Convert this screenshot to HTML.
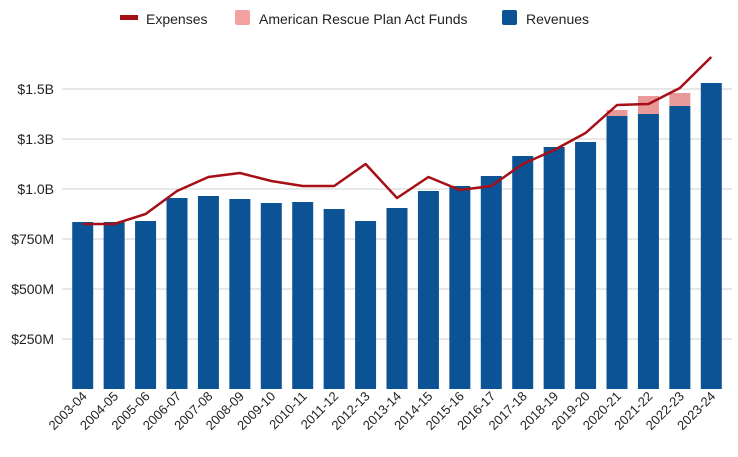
<!DOCTYPE html>
<html><head><meta charset="utf-8"><style>
body{margin:0;background:#fff;font-family:"Liberation Sans",Arial,sans-serif}
svg text{font-family:"Liberation Sans",Arial,sans-serif;fill:#222}
</style></head><body>
<svg id="chart" width="738" height="452" viewBox="0 0 738 452" xmlns="http://www.w3.org/2000/svg">
<g id="legend">
<g><rect x="120" y="15" width="18" height="5" fill="#a50f15"/><text x="146" y="24" font-size="14">Expenses</text></g>
<g><rect x="235" y="10" width="15" height="15" rx="2" fill="#f4a0a0"/><text x="259" y="24" font-size="14">American Rescue Plan Act Funds</text></g>
<g><rect x="502" y="10" width="15" height="15" rx="2" fill="#0b5394"/><text x="526" y="24" font-size="14">Revenues</text></g>
</g>
<g id="grid"></g>
<g id="bars"></g>
<g id="line"></g>
<g id="xaxis"></g>
<g id="yaxis"></g>
</svg>
<script>
const categories=["2003-04","2004-05","2005-06","2006-07","2007-08","2008-09","2009-10","2010-11","2011-12","2012-13","2013-14","2014-15","2015-16","2016-17","2017-18","2018-19","2019-20","2020-21","2021-22","2022-23","2023-24"];
const revenues=[835,835,840,955,965,950,930,935,900,840,905,990,1015,1065,1165,1210,1235,1365,1375,1415,1530];
const arpa=[0,0,0,0,0,0,0,0,0,0,0,0,0,0,0,0,0,30,90,65,0];
const expenses=[825,825,875,990,1060,1080,1040,1015,1015,1125,955,1060,995,1015,1125,1195,1280,1420,1425,1505,1660];
const tickValues=[250,500,750,1000,1250,1500];
const tickLabels=["$250M","$500M","$750M","$1.0B","$1.3B","$1.5B"];
const NS="http://www.w3.org/2000/svg";
const left=67,right=727,y0=389,pxPer=50/250;
const band=(right-left)/categories.length,bw=21;
const y=v=>y0-v*pxPer;
const xc=i=>left+band*(i+0.5);
function mk(tag,attrs,parent){const e=document.createElementNS(NS,tag);for(const k in attrs)e.setAttribute(k,attrs[k]);parent.appendChild(e);return e;}
const grid=document.getElementById('grid'),yax=document.getElementById('yaxis');
tickValues.forEach((v,i)=>{
 const l=mk('line',{x1:left-5,x2:right+5,y1:y(v),y2:y(v),stroke:'#d0d0d0','stroke-width':1},grid);
 
 
 const t=mk('text',{x:54,y:y(v)+5,'text-anchor':'end','font-size':14},yax);
 t.textContent=tickLabels[i];
 
 
});
const bars=document.getElementById('bars'),xax=document.getElementById('xaxis');
categories.forEach((c,i)=>{
 const r=mk('rect',{x:xc(i)-bw/2,y:y(revenues[i]),width:bw,height:revenues[i]*pxPer,fill:'#0b5394'},bars);
 
 
 if(arpa[i]>0){
  const a=mk('rect',{x:xc(i)-bw/2,y:y(revenues[i]+arpa[i]),width:bw,height:arpa[i]*pxPer,fill:'#ea9999'},bars);
  
  
 }
 const t=mk('text',{x:0,y:0,'text-anchor':'end','font-size':13,transform:`translate(${xc(i)+5},${y0+8}) rotate(-45)`},xax);
 t.textContent=c;
 
 
});
const pts=expenses.map((v,i)=>xc(i)+','+y(v)).join(' ');
const pl=mk('polyline',{points:pts,fill:'none',stroke:'#a50f15','stroke-width':2.5,'stroke-linejoin':'round'},document.getElementById('line'));


</script>
</body></html>
